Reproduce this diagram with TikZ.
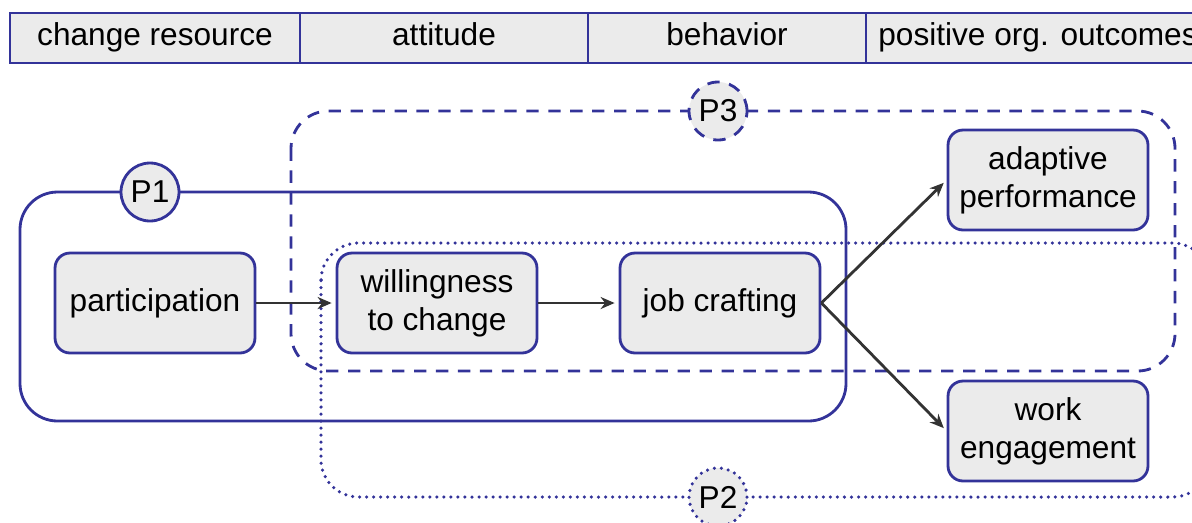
\documentclass[tikz,border=0pt]{standalone}
\usepackage{fontspec}
\setmainfont{Liberation Sans}
\usetikzlibrary{arrows.meta}
\definecolor{frameblue}{HTML}{333399}
\definecolor{boxgray}{HTML}{EBEBEB}
\definecolor{arrowgray}{HTML}{333333}

\begin{document}
\begin{tikzpicture}[x=0.02cm, y=-0.02cm, >={Stealth[length=2.8mm, width=2.4mm]}, line width=1.6pt,
  every node/.style={font=\fontsize{18}{21.6}\selectfont},
  head/.style={draw=frameblue, fill=boxgray, line width=1.5pt, minimum height=1cm, inner sep=0pt,
    text height=13pt, text depth=4pt},
  var/.style={draw=frameblue, fill=boxgray, rounded corners=0.3cm, minimum width=4cm, minimum height=2cm, align=center, inner sep=2pt},
  tag/.style={circle, draw=frameblue, fill=boxgray, minimum size=1.16cm, inner sep=0pt},
  frame/.style={draw=frameblue, rounded corners=0.75cm},
  dashline/.style={dash pattern=on 7pt off 5.5pt},
  dotline/.style={line width=2pt, dash pattern=on 0pt off 4pt, line cap=round},
  link/.style={->, draw=arrowgray, line width=1.6pt, shorten >=0.08cm}]
  \useasboundingbox (0,0) rectangle (1192,522);
  % header row
  \node[head, minimum width=5.8cm]  (hres) at (155,38)  {change resource};
  \node[head, minimum width=5.76cm] (hatt) at (444,38)  {attitude};
  \node[head, minimum width=5.56cm] (hbeh) at (727,38)  {behavior};
  \node[head, minimum width=6.88cm] (hout) at (1038,38) {positive org. outcomes};
  % frames of the three paths
  \draw[frame] (20,192) rectangle (846,421);
  \draw[frame, dashline] (291,111) rectangle (1175,371);
  \draw[frame, dotline] (321,243) rectangle (1210,497);
  \node[tag] (p1) at (150,192) {P1};
  \node[tag, dashline] (p3) at (718,111) {P3};
  \node[tag, dotline] (p2) at (718,497) {P2};
  % variables
  \node[var] (part) at (155,303) {participation};
  \node[var] (will) at (437,303) {willingness\\to change};
  \node[var] (craft) at (720,303) {job crafting};
  \node[var] (adapt) at (1048,180) {adaptive\\performance};
  \node[var] (engage) at (1048,431) {work\\engagement};
  % paths
  \draw[link] (part) -- (will);
  \draw[link] (will) -- (craft);
  \draw[link] (craft.east) -- (adapt.west);
  \draw[link] (craft.east) -- (engage.west);
\end{tikzpicture}
\end{document}
